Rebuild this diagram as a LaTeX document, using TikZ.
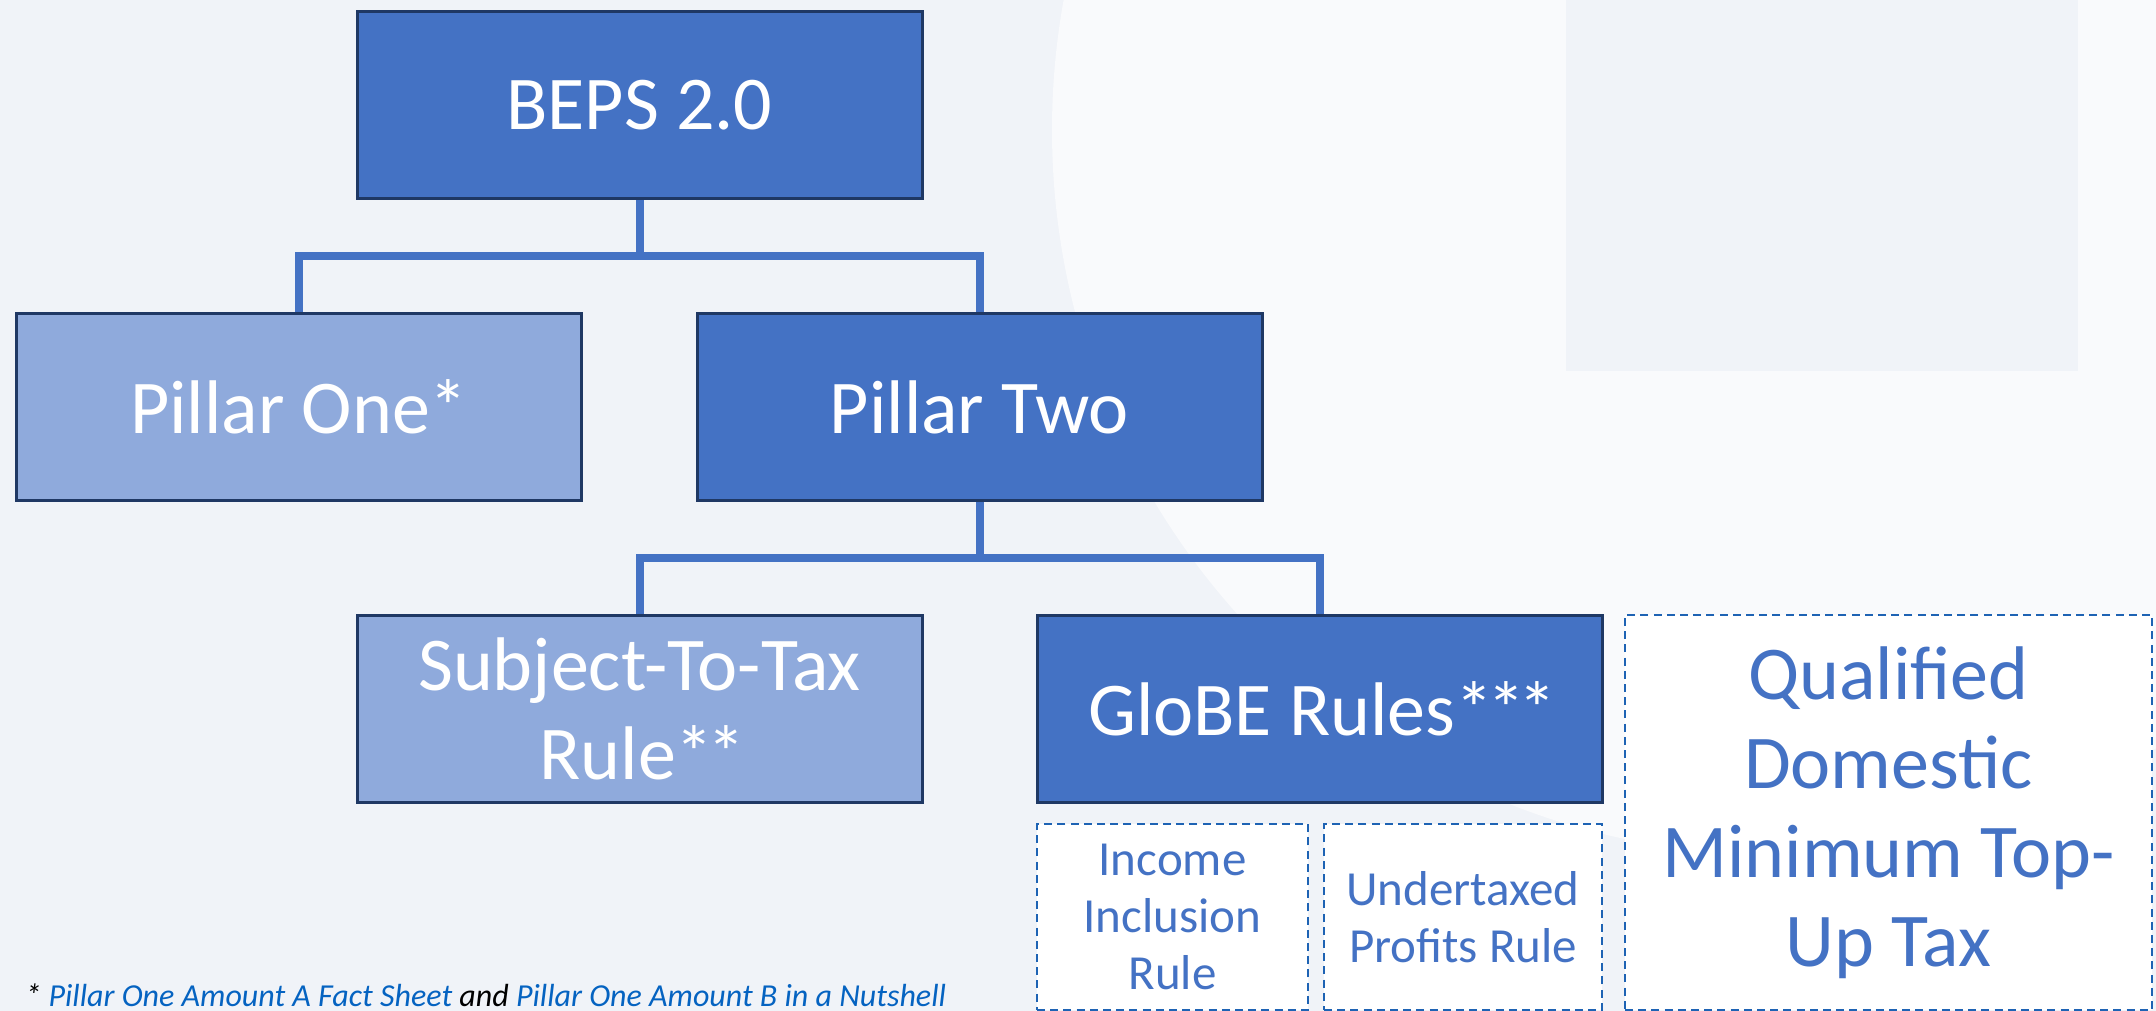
\documentclass[tikz,border=0pt]{standalone}
\usepackage{fontspec}
\setmainfont{Carlito}
\definecolor{bgbase}{HTML}{F0F3F8}
\definecolor{bglight}{HTML}{F9FAFC}
\definecolor{boxdark}{HTML}{4472C4}
\definecolor{boxlight}{HTML}{8FAADC}
\definecolor{navy}{HTML}{1F3864}
\definecolor{dashblue}{HTML}{1E63B4}
\definecolor{linkblue}{HTML}{0563C1}
\newcommand\tightstar{*\kern-0.08em}
\tikzset{
  box/.style={draw=navy, line width=1.5pt, text=white, align=center, inner sep=0pt,
    minimum width=282.5pt, minimum height=93.5pt, font=\fontsize{38}{44.5}\selectfont},
  darkbox/.style={box, fill=boxdark},
  lightbox/.style={box, fill=boxlight},
  dbox/.style={draw=dashblue, line width=1.2pt, dash pattern=on 4pt off 2.6pt, fill=white,
    text=boxdark, align=center, inner sep=0pt},
  smalltext/.style={font=\fontsize{24.5}{28.5}\selectfont},
  bigtext/.style={font=\fontsize{38}{44.5}\selectfont},
  conn/.style={draw=boxdark, line width=4pt},
}
\begin{document}
\begin{tikzpicture}[x=0.5pt, y=-0.5pt]
\useasboundingbox (0,0) rectangle (2156,1011);
\begin{scope}
\clip (0,0) rectangle (2156,1011);
\fill[bgbase] (0,0) rectangle (2156,1011);
\fill[bglight] (1777,130) circle [radius=362.5pt];
\fill[bgbase] (1566,0) rectangle (2078,371);

% nodes
\node[darkbox] (beps) at (639.5,105) {BEPS 2.0};
\node[lightbox] (p1) at (299,407) {Pillar One*};
\node[darkbox] (p2) at (979.5,407) {Pillar Two};
\node[lightbox] (sttr) at (639.5,708.5) {Subject-To-Tax\\Rule\tightstar\tightstar};
\node[darkbox] (globe) at (1319.5,708.5) {GloBE Rules\tightstar\tightstar\tightstar};
\node[dbox, smalltext, minimum width=135.5pt, minimum height=93pt] (iir) at (1172.5,917) {Income\\Inclusion\\Rule};
\node[dbox, smalltext, minimum width=139pt, minimum height=93pt] (upr) at (1463,917) {Undertaxed\\Profits Rule};
\node[dbox, bigtext, minimum width=263.5pt, minimum height=197.5pt] (qdmtt) at (1888.5,812.5) {Qualified\\Domestic\\Minimum Top-\\Up Tax};

% connectors
\coordinate (j1) at (639.5,256);
\coordinate (j2) at (979.5,558);
\draw[conn] (beps.south) -- (j1);
\draw[conn] (p1.north) |- (j1) -| (p2.north);
\draw[conn] (p2.south) -- (j2);
\draw[conn] (sttr.north) |- (j2) -| (globe.north);

% footnote
\node[anchor=base west, inner sep=0pt, font=\fontsize{16}{18}\selectfont\itshape] (fn) at (25,1006)
  {* \textcolor{linkblue}{Pillar One Amount A Fact Sheet} and \textcolor{linkblue}{Pillar One Amount B in a Nutshell}};
\end{scope}
\end{tikzpicture}
\end{document}
